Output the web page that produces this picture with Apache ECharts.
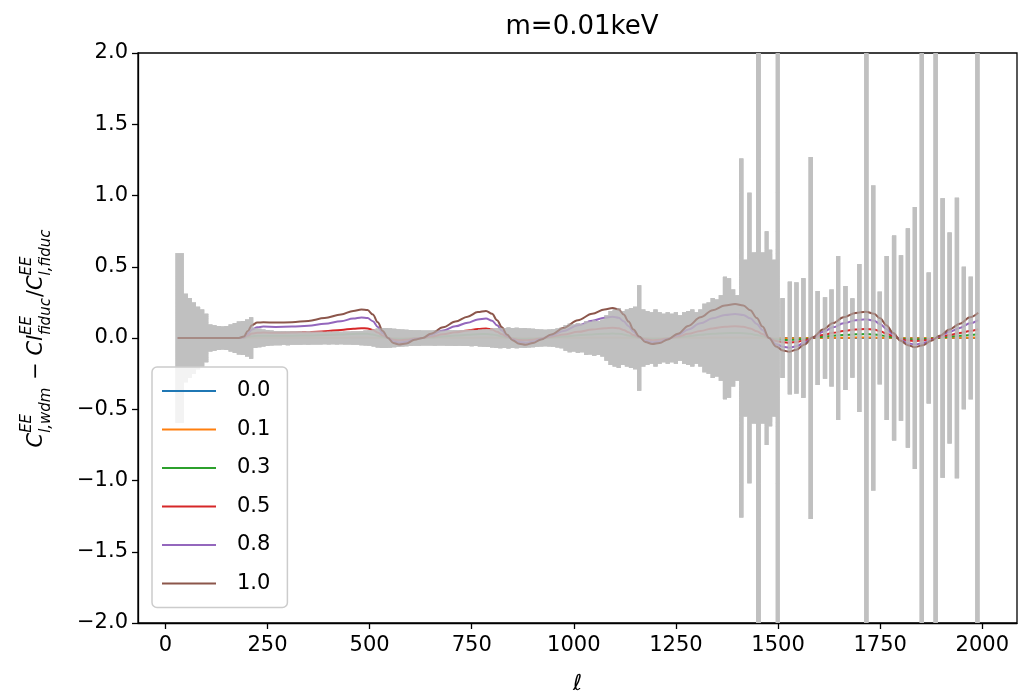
<!DOCTYPE html>
<html>
<head>
<meta charset="utf-8">
<script src="https://cdn.jsdelivr.net/npm/echarts@6/dist/echarts.min.js"></script>
<style>
  html, body { margin: 0; padding: 0; background: #fff; }
  #main { width: 1020px; height: 700px; }
</style>
</head>
<body>
<div id="main"></div>
<script>
// legend labels (wdm fraction) and matplotlib tab10 colours
var fractions = ['0.0', '0.1', '0.3', '0.5', '0.8', '1.0'];
var colors = ['#1f77b4', '#ff7f0e', '#2ca02c', '#d62728', '#9467bd', '#8c564b'];

var xTicks = [0, 250, 500, 750, 1000, 1250, 1500, 1750, 2000];

// multipoles where the curves were read
var ellLine = [30, 100, 180, 192, 202, 212, 225, 240, 270, 310,
  350, 390, 430, 460, 480, 495, 508, 520, 532, 545,
  558, 572, 590, 610, 630, 650, 680, 710, 740, 765,
  785, 800, 812, 824, 836, 850, 866, 882, 900, 920,
  945, 975, 1010, 1045, 1075, 1095, 1110, 1122, 1134, 1146,
  1160, 1175, 1192, 1210, 1230, 1255, 1280, 1310, 1340, 1370,
  1395, 1415, 1432, 1448, 1462, 1478, 1495, 1512, 1528, 1545,
  1565, 1585, 1610, 1635, 1660, 1690, 1715, 1735, 1750, 1765,
  1782, 1800, 1818, 1835, 1855, 1875, 1895, 1920, 1945, 1970,
  1990];

var diff00 = [0, 0, 0, 0, 0, 0, 0, 0, 0, 0,
  0, 0, 0, 0, 0, 0, 0, 0, 0, 0,
  0, 0, 0, 0, 0, 0, 0, 0, 0, 0,
  0, 0, 0, 0, 0, 0, 0, 0, 0, 0,
  0, 0, 0, 0, 0, 0, 0, 0, 0, 0,
  0, 0, 0, 0, 0, 0, 0, 0, 0, 0,
  0, 0, 0, 0, 0, 0, 0, 0, 0, 0,
  0, 0, 0, 0, 0, 0, 0, 0, 0, 0,
  0, 0, 0, 0, 0, 0, 0, 0, 0, 0,
  0];

var diff01 = [0, 0, 0, 0, 0.001, 0.001, 0.002, 0.002, 0.002, 0.002,
  0.002, 0.002, 0.002, 0.003, 0.003, 0.003, 0.002, 0.002, 0.001, 0,
  -0.001, -0.001, -0.001, 0, 0, 0, 0.001, 0.002, 0.002, 0.003,
  0.003, 0.003, 0.002, 0.001, 0, 0, -0.001, -0.001, -0.001, 0,
  0, 0.001, 0.002, 0.003, 0.003, 0.003, 0.003, 0.002, 0.002, 0.001,
  0, 0, -0.001, -0.001, 0, 0, 0.001, 0.002, 0.003, 0.003,
  0.004, 0.003, 0.003, 0.002, 0.001, 0, -0.001, -0.001, -0.001, -0.001,
  -0.001, 0, 0.001, 0.002, 0.002, 0.003, 0.003, 0.003, 0.002, 0.001,
  0.001, 0, -0.001, -0.001, -0.001, 0, 0, 0.001, 0.002, 0.002,
  0.003];

var diff03 = [0, 0, 0, 0.001, 0.007, 0.013, 0.016, 0.016, 0.016, 0.016,
  0.018, 0.021, 0.025, 0.028, 0.03, 0.029, 0.025, 0.016, 0.007, 0.0,
  -0.005, -0.007, -0.006, -0.002, 0.0, 0.004, 0.011, 0.017, 0.022, 0.027,
  0.028, 0.025, 0.019, 0.011, 0.004, -0.002, -0.006, -0.007, -0.005, -0.001,
  0.004, 0.01, 0.019, 0.025, 0.03, 0.031, 0.03, 0.025, 0.017, 0.009,
  0.001, -0.004, -0.006, -0.005, -0.001, 0.004, 0.013, 0.022, 0.029, 0.034,
  0.035, 0.034, 0.029, 0.021, 0.012, 0.0, -0.009, -0.013, -0.014, -0.012,
  -0.007, 0.001, 0.009, 0.016, 0.021, 0.026, 0.028, 0.025, 0.02, 0.013,
  0.005, -0.003, -0.007, -0.01, -0.007, -0.003, 0.002, 0.009, 0.015, 0.021,
  0.026];

var diff05 = [0, 0, 0, 0.003, 0.017, 0.031, 0.037, 0.038, 0.037, 0.038,
  0.041, 0.048, 0.057, 0.065, 0.069, 0.067, 0.057, 0.038, 0.017, 0.0,
  -0.012, -0.016, -0.013, -0.004, 0.0, 0.01, 0.026, 0.04, 0.052, 0.063,
  0.066, 0.059, 0.043, 0.026, 0.009, -0.005, -0.014, -0.016, -0.012, -0.003,
  0.009, 0.024, 0.043, 0.059, 0.069, 0.072, 0.069, 0.057, 0.04, 0.021,
  0.003, -0.01, -0.015, -0.012, -0.003, 0.01, 0.029, 0.05, 0.067, 0.079,
  0.082, 0.079, 0.067, 0.048, 0.028, 0.0, -0.021, -0.03, -0.033, -0.028,
  -0.016, 0.002, 0.021, 0.036, 0.05, 0.06, 0.064, 0.059, 0.048, 0.031,
  0.012, -0.007, -0.017, -0.022, -0.017, -0.007, 0.005, 0.021, 0.035, 0.05,
  0.061];

var diff08 = [0, 0, 0, 0.006, 0.03, 0.06, 0.075, 0.08, 0.078, 0.08,
  0.086, 0.1, 0.118, 0.136, 0.144, 0.14, 0.118, 0.078, 0.035, 0.0,
  -0.025, -0.032, -0.027, -0.008, 0.0, 0.021, 0.053, 0.082, 0.107, 0.13,
  0.136, 0.121, 0.089, 0.053, 0.018, -0.011, -0.028, -0.033, -0.025, -0.007,
  0.018, 0.05, 0.089, 0.121, 0.142, 0.149, 0.142, 0.117, 0.082, 0.043,
  0.007, -0.02, -0.03, -0.025, -0.007, 0.021, 0.06, 0.103, 0.138, 0.162,
  0.169, 0.162, 0.138, 0.099, 0.057, 0.0, -0.043, -0.062, -0.068, -0.058,
  -0.032, 0.004, 0.043, 0.075, 0.103, 0.124, 0.131, 0.121, 0.098, 0.064,
  0.025, -0.014, -0.036, -0.046, -0.036, -0.014, 0.011, 0.043, 0.071, 0.103,
  0.126];

var diff10 = [0, 0, 0, 0.01, 0.05, 0.09, 0.108, 0.11, 0.108, 0.11,
  0.12, 0.14, 0.165, 0.19, 0.2, 0.196, 0.165, 0.11, 0.05, 0.0,
  -0.035, -0.045, -0.038, -0.012, 0.0, 0.03, 0.075, 0.115, 0.15, 0.182,
  0.19, 0.17, 0.125, 0.075, 0.025, -0.015, -0.04, -0.047, -0.035, -0.01,
  0.025, 0.07, 0.125, 0.17, 0.2, 0.21, 0.2, 0.165, 0.115, 0.06,
  0.01, -0.028, -0.042, -0.035, -0.01, 0.03, 0.085, 0.145, 0.195, 0.228,
  0.238, 0.228, 0.195, 0.14, 0.08, 0.0, -0.06, -0.088, -0.096, -0.082,
  -0.045, 0.005, 0.06, 0.105, 0.145, 0.175, 0.185, 0.17, 0.138, 0.09,
  0.035, -0.02, -0.05, -0.065, -0.05, -0.02, 0.015, 0.06, 0.1, 0.145,
  0.177];

var diffs = [diff00, diff01, diff03, diff05, diff08, diff10];

// error band (+/- sigma), fine binning up to l~1500
var errEll = [30, 40, 50, 60, 70, 80, 90, 100, 110, 120,
  130, 140, 150, 160, 170, 180, 190, 200, 210, 220,
  230, 240, 250, 260, 270, 280, 290, 300, 310, 320,
  330, 340, 350, 360, 370, 380, 390, 400, 410, 420,
  430, 440, 450, 460, 470, 480, 490, 500, 510, 520,
  530, 540, 550, 560, 570, 580, 590, 600, 610, 620,
  630, 640, 650, 660, 670, 680, 690, 700, 710, 720,
  730, 740, 750, 760, 770, 780, 790, 800, 810, 820,
  830, 840, 850, 860, 870, 880, 890, 900, 910, 920,
  930, 940, 950, 960, 970, 980, 990, 1000, 1010, 1020,
  1030, 1040, 1050, 1060, 1070, 1080, 1090, 1100, 1110, 1120,
  1130, 1140, 1150, 1160, 1170, 1180, 1190, 1200, 1210, 1220,
  1230, 1240, 1250, 1260, 1270, 1280, 1290, 1300, 1310, 1320,
  1330, 1340, 1350, 1360, 1370, 1380, 1390, 1400, 1410, 1420,
  1430, 1440, 1452, 1463, 1472, 1481, 1490, 1499];
var errSig = [0.594, 0.594, 0.31, 0.28, 0.25, 0.22, 0.2, 0.17, 0.095, 0.09,
  0.085, 0.08, 0.085, 0.095, 0.105, 0.115, 0.12, 0.13, 0.145, 0.07,
  0.065, 0.06, 0.056, 0.052, 0.05, 0.05, 0.048, 0.05, 0.048, 0.047,
  0.048, 0.046, 0.047, 0.045, 0.046, 0.045, 0.044, 0.045, 0.044, 0.045,
  0.044, 0.046, 0.045, 0.047, 0.048, 0.05, 0.052, 0.055, 0.06, 0.066,
  0.07, 0.07, 0.068, 0.065, 0.062, 0.06, 0.058, 0.056, 0.055, 0.054,
  0.052, 0.052, 0.053, 0.054, 0.052, 0.053, 0.055, 0.054, 0.056, 0.055,
  0.057, 0.056, 0.058, 0.057, 0.06, 0.062, 0.064, 0.066, 0.07, 0.072,
  0.07, 0.074, 0.07, 0.072, 0.068, 0.07, 0.066, 0.065, 0.062, 0.06,
  0.058, 0.06, 0.062, 0.066, 0.072, 0.09, 0.1, 0.095, 0.105, 0.1,
  0.12, 0.115, 0.125, 0.12, 0.13, 0.16, 0.19, 0.2, 0.21, 0.19,
  0.2, 0.21, 0.22, 0.37, 0.2, 0.19, 0.18, 0.2, 0.18, 0.17,
  0.18, 0.17, 0.18, 0.16, 0.18, 0.19, 0.2, 0.18, 0.2, 0.24,
  0.25, 0.28, 0.27, 0.3, 0.43, 0.42, 0.34, 0.3, 1.26, 0.55,
  1.02, 0.6, 2.5, 0.6, 0.75, 0.62, 0.55, 2.5];

// coarse bins above l~1500, drawn as separate bars
var barEll = [1511, 1529, 1545, 1562, 1580, 1597, 1615, 1631, 1647, 1665,
  1682, 1699, 1716, 1733, 1749, 1766, 1784, 1801, 1818, 1835,
  1852, 1869, 1886, 1903, 1920, 1938, 1955, 1972, 1988];
var barSig = [0.28, 0.395, 0.39, 0.42, 1.27, 0.33, 0.285, 0.34, 0.575, 0.365,
  0.278, 0.52, 2.5, 1.07, 0.325, 0.575, 0.72, 0.58, 0.77, 0.92,
  2.5, 0.46, 2.5, 0.98, 0.74, 0.985, 0.5, 0.43, 2.5];

var GRAY = 'rgba(191,191,191,0.5)';
var FONT = '"DejaVu Sans", "Liberation Sans", sans-serif';

// one translucent copy of the error bars; drawn after every curve like the original
function renderErr(params, api) {
  var top = [], bot = [];
  var n = errEll.length;
  for (var i = 0; i < n; i++) {
    var l = i === 0 ? errEll[0] - 5 : (errEll[i - 1] + errEll[i]) / 2;
    var r = i === n - 1 ? errEll[i] + 5 : (errEll[i] + errEll[i + 1]) / 2;
    top.push(api.coord([l, errSig[i]]), api.coord([r, errSig[i]]));
    bot.push(api.coord([l, -errSig[i]]), api.coord([r, -errSig[i]]));
  }
  var kids = [{
    type: 'polygon',
    shape: { points: top.concat(bot.reverse()) },
    style: { fill: GRAY }
  }];
  for (var j = 0; j < barEll.length; j++) {
    var a = api.coord([barEll[j], barSig[j]]);
    var b = api.coord([barEll[j], -barSig[j]]);
    kids.push({
      type: 'rect',
      shape: { x: a[0] - 2.1, y: a[1], width: 4.2, height: b[1] - a[1] },
      style: { fill: GRAY }
    });
  }
  return { type: 'group', children: kids };
}

var series = [];
fractions.forEach(function (f, i) {
  series.push({
    name: f,
    type: 'line',
    data: ellLine.map(function (e, k) { return [e, diffs[i][k]]; }),
    symbol: 'none',
    smooth: 0.35,
    smoothMonotone: 'x',
    lineStyle: { color: colors[i], width: 2 },
    itemStyle: { color: colors[i] },
    z: 10 + 2 * i,
    silent: true
  });
  series.push({
    type: 'custom',
    renderItem: renderErr,
    data: [[0, 0]],
    clip: true,
    z: 11 + 2 * i,
    silent: true
  });
});

// y label built from pieces: C^{EE}_{l,wdm} - Cl^{EE}_{fiduc}/C^{EE}_{l,fiduc}
var ctx = document.createElement('canvas').getContext('2d');
function tw(s, font) { ctx.font = font; return ctx.measureText(s).width; }
var FM = 'italic 21px "DejaVu Sans"';
var FU = '21px "DejaVu Sans"';
var FS = 'italic 15px "DejaVu Sans"';
var parts = [
  { base: 'C', font: FM },
  { sup: 'EE', sub: 'l,wdm' },
  { base: ' \u2212 ', font: FU },
  { base: 'Cl', font: FM },
  { sup: 'EE', sub: 'fiduc' },
  { base: '/', font: FU },
  { base: 'C', font: FM },
  { sup: 'EE', sub: 'l,fiduc' }
];
var total = 0;
parts.forEach(function (p) {
  p.w = p.base ? tw(p.base, p.font) : Math.max(tw(p.sup, FS), tw(p.sub, FS)) + 1;
  total += p.w;
});
var labelKids = [];
var u = -total / 2;
parts.forEach(function (p) {
  if (p.base) {
    labelKids.push({ type: 'text', x: u, y: 0,
      style: { text: p.base, font: p.font, fill: '#000', align: 'left', verticalAlign: 'middle' } });
  } else {
    labelKids.push({ type: 'text', x: u, y: -10,
      style: { text: p.sup, font: FS, fill: '#000', align: 'left', verticalAlign: 'middle' } });
    labelKids.push({ type: 'text', x: u, y: 9,
      style: { text: p.sub, font: FS, fill: '#000', align: 'left', verticalAlign: 'middle' } });
  }
  u += p.w;
});

var chart = echarts.init(document.getElementById('main'));
chart.setOption({
  animation: false,
  backgroundColor: '#fff',
  title: {
    text: 'm=0.01keV',
    left: 577, top: 9, textAlign: 'center',
    textStyle: { fontFamily: FONT, fontSize: 26, fontWeight: 'normal', color: '#000' }
  },
  grid: {
    left: 138, right: 3, top: 53, bottom: 77,
    show: true, borderColor: '#000', borderWidth: 1.3, backgroundColor: 'transparent'
  },
  legend: {
    data: fractions,
    orient: 'vertical',
    left: 152, top: 367,
    icon: 'rect',
    itemWidth: 54, itemHeight: 2, itemGap: 14.5,
    padding: [12, 17, 12, 10],
    backgroundColor: 'rgba(255,255,255,0.8)',
    borderColor: '#cccccc', borderWidth: 1.5, borderRadius: 5,
    textStyle: { fontFamily: FONT, fontSize: 21, color: '#000', padding: [0, 0, 0, 16], lineHeight: 24 },
    selectedMode: false,
    z: 50
  },
  xAxis: {
    type: 'value',
    min: -67, max: 2085,
    name: '\u2113',
    nameLocation: 'middle', nameGap: 50,
    nameTextStyle: { fontFamily: FONT, fontSize: 22, fontStyle: 'italic', color: '#000' },
    axisLine: { onZero: false, lineStyle: { color: '#000', width: 1.3 } },
    axisTick: { show: true, length: 6, customValues: xTicks, lineStyle: { color: '#000', width: 1.3 } },
    axisLabel: {
      customValues: xTicks, margin: 12, fontFamily: FONT, fontSize: 21, color: '#000',
      formatter: function (v) { return String(v); }
    },
    splitLine: { show: false }
  },
  yAxis: {
    type: 'value',
    min: -2, max: 2, interval: 0.5,
    axisLine: { onZero: false, lineStyle: { color: '#000', width: 1.3 } },
    axisTick: { show: true, length: 6, lineStyle: { color: '#000', width: 1.3 } },
    axisLabel: {
      margin: 10, fontFamily: FONT, fontSize: 21, color: '#000',
      formatter: function (v) { return (v < 0 ? '\u2212' : '') + Math.abs(v).toFixed(1); }
    },
    splitLine: { show: false }
  },
  graphic: [{
    type: 'group', x: 37, y: 338, rotation: Math.PI / 2, silent: true,
    children: labelKids
  }],
  series: series
});
</script>
</body>
</html>
